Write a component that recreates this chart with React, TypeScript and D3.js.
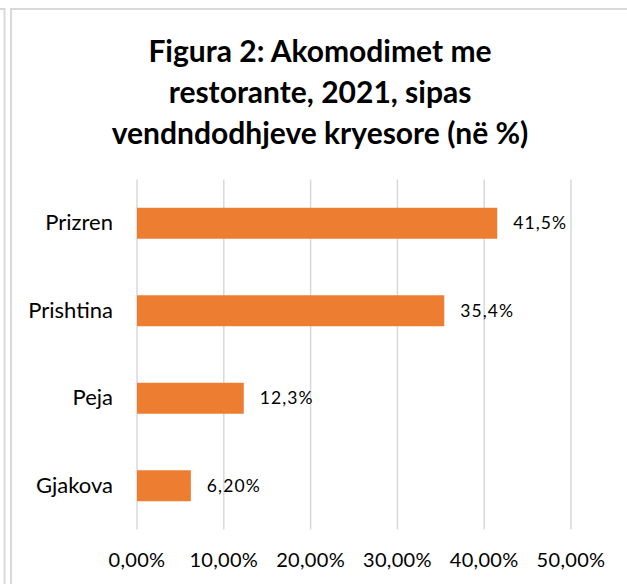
import React from "react";
import * as d3 from "d3";

const categories = ["Prizren", "Prishtina", "Peja", "Gjakova"];
const values = [41.5, 35.4, 12.3, 6.2];
const valueLabels = ["41,5%", "35,4%", "12,3%", "6,20%"];
const xTicks = [0, 10, 20, 30, 40, 50];
const xTickLabels = ["0,00%", "10,00%", "20,00%", "30,00%", "40,00%", "50,00%"];
const titleLines = [
  "Figura 2: Akomodimet me",
  "restorante, 2021, sipas",
  "vendndodhjeve kryesore (në %)",
];

const W = 627;
const H = 584;
const FONT = "Lato, 'Open Sans', sans-serif";

export default function App() {
  const x = d3.scaleLinear().domain([0, 50]).range([137, 571]);
  const y = d3
    .scaleBand<string>()
    .domain(categories)
    .range([179.5, 529.5])
    .paddingInner(0.646)
    .paddingOuter(0.323);

  return (
    <div style={{ position: "absolute", left: 0, top: 0 }}>
      <svg width={W} height={H} style={{ display: "block", background: "#fff" }}>
        {/* outer frames */}
        <path d="M0,9 H4.5 V584" fill="none" stroke="#d9d9d9" strokeWidth={2} />
        <path d={`M11,584 V9 H${W + 5}`} fill="none" stroke="#d9d9d9" strokeWidth={2} />

        {/* title */}
        {titleLines.map((t, i) => (
          <text
            key={i}
            x={320}
            y={62 + i * 41}
            textAnchor="middle"
            fontFamily={FONT}
            fontWeight="bold"
            fontSize={30}
            fill="#000"
          >
            {t}
          </text>
        ))}

        {/* gridlines */}
        {xTicks.map((t) => (
          <line
            key={t}
            x1={x(t)}
            x2={x(t)}
            y1={179.5}
            y2={529.5}
            stroke="#d9d9d9"
            strokeWidth={1.5}
          />
        ))}

        {/* bars */}
        {categories.map((c, i) => (
          <rect
            key={c}
            x={x(0)}
            y={y(c)!}
            width={x(values[i]) - x(0)}
            height={y.bandwidth()}
            fill="#ED7D31"
          />
        ))}

        {/* value labels */}
        {categories.map((c, i) => (
          <text
            key={c}
            x={x(values[i]) + 16}
            y={y(c)! + y.bandwidth() / 2}
            dy="0.35em"
            fontFamily={FONT}
            fontSize={17.5}
            letterSpacing={1.1}
            fill="#000"
          >
            {valueLabels[i]}
          </text>
        ))}

        {/* category labels */}
        {categories.map((c) => (
          <text
            key={c}
            x={113}
            y={y(c)! + y.bandwidth() / 2}
            dy="0.32em"
            textAnchor="end"
            fontFamily={FONT}
            fontSize={22}
            fill="#000"
          >
            {c}
          </text>
        ))}

        {/* x tick labels */}
        {xTicks.map((t, i) => (
          <text
            key={t}
            x={x(t)}
            y={560}
            dy="0.35em"
            textAnchor="middle"
            fontFamily={FONT}
            fontSize={20}
            letterSpacing={0.3}
            fill="#000"
          >
            {xTickLabels[i]}
          </text>
        ))}
      </svg>
    </div>
  );
}
